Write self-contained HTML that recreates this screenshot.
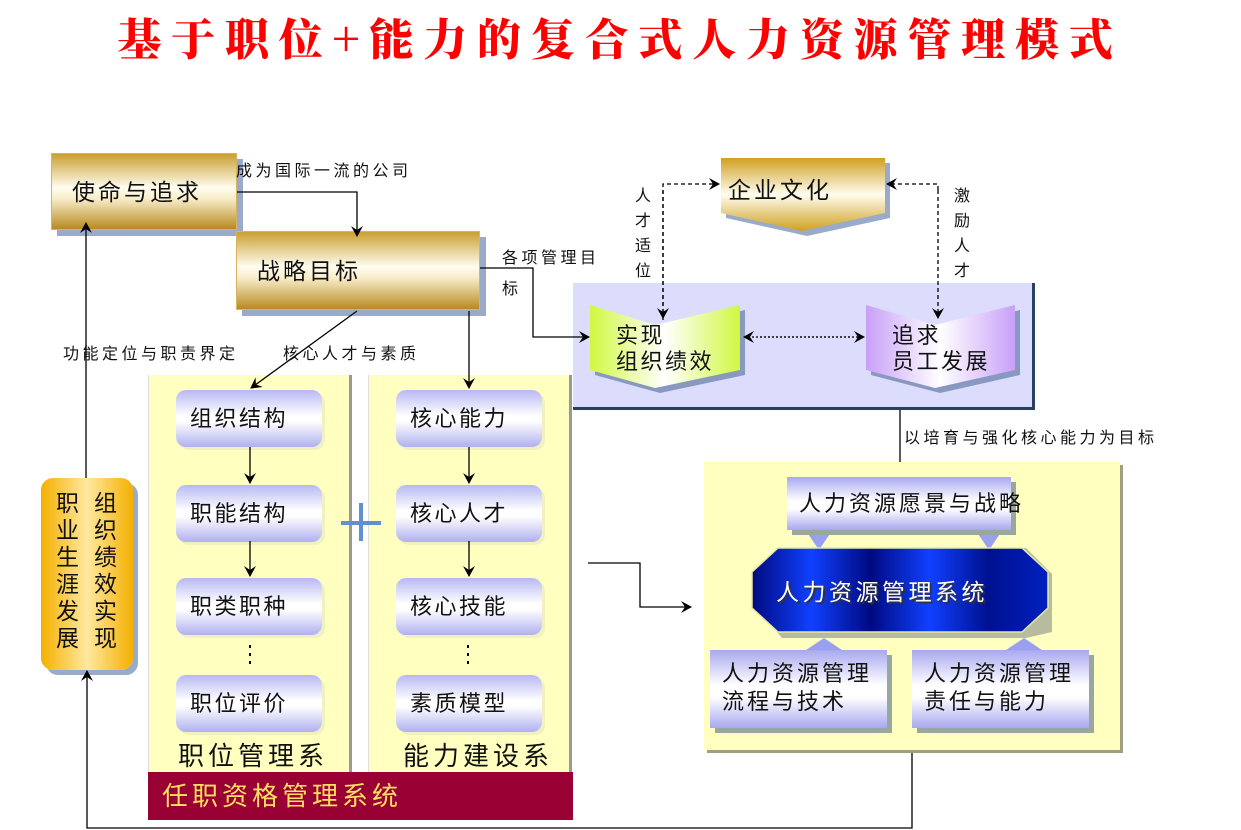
<!DOCTYPE html>
<html><head><meta charset="utf-8"><style>
body{margin:0;width:1241px;height:830px;background:#fff;position:relative;overflow:hidden;font-family:"Liberation Sans","Noto Sans CJK SC",sans-serif;color:#111}
.a{position:absolute}
.gold{background:linear-gradient(#c9a030,#fffdf0 45%,#f7ecc8 60%,#b88a20);border:1px solid #d7b460;box-shadow:6px 6px 0 #9aaacb;box-sizing:border-box;letter-spacing:3px}
.pill{position:absolute;width:146px;height:57px;border-radius:10px;background:linear-gradient(#b8b8f4,#fff 45%,#fff 55%,#b0b0f0);box-shadow:3px 3px 0 #f0f0c0;font-size:22px;line-height:57px;padding-left:14px;box-sizing:border-box;letter-spacing:2.5px}
.lav{background:linear-gradient(#a8a8f0,#fff 45%,#fff 60%,#a8a8f0);box-shadow:5px 5px 0 #98a8a0;box-sizing:border-box;font-size:22px;letter-spacing:3px}
.t{position:absolute;font-size:16px;white-space:nowrap;letter-spacing:3.5px}
</style></head><body>
<div class="a" style="left:100px;top:6px;width:1040px;text-align:center;font-family:'Noto Serif CJK SC',serif;font-weight:900;font-size:44px;letter-spacing:9.8px;color:#f00;line-height:60px">基于职位+能力的复合式人力资源管理模式</div>

<div class="a gold" style="left:51px;top:153px;width:186px;height:77px;font-size:23px;line-height:77px;padding-left:20px">使命与追求</div>
<div class="a gold" style="left:236px;top:231px;width:244px;height:79px;font-size:23px;line-height:79px;padding-left:20px">战略目标</div>
<div class="t" style="left:236px;top:157px">成为国际一流的公司</div>
<div class="t" style="left:502px;top:243px;line-height:31px">各项管理目<br>标</div>
<div class="t" style="left:63px;top:340px">功能定位与职责界定</div>
<div class="t" style="left:283px;top:340px">核心人才与素质</div>

<div class="a" style="left:148px;top:375px;width:200px;height:397px;background:#ffffc0;border-right:3px solid #999;border-left:1px solid #ddd"></div>
<div class="a" style="left:368px;top:375px;width:200px;height:397px;background:#ffffc0;border-right:3px solid #999;border-left:1px solid #ddd"></div>
<div class="pill" style="left:176px;top:390px">组织结构</div>
<div class="pill" style="left:176px;top:485px">职能结构</div>
<div class="pill" style="left:176px;top:578px">职类职种</div>
<div class="pill" style="left:176px;top:675px">职位评价</div>
<div class="pill" style="left:396px;top:390px">核心能力</div>
<div class="pill" style="left:396px;top:485px">核心人才</div>
<div class="pill" style="left:396px;top:578px">核心技能</div>
<div class="pill" style="left:396px;top:675px">素质模型</div>
<div class="a" style="left:178px;top:736px;font-size:26px;letter-spacing:4px">职位管理系</div>
<div class="a" style="left:403px;top:736px;font-size:26px;letter-spacing:4px">能力建设系</div>
<div class="a" style="left:148px;top:772px;width:425px;height:48px;background:#990033;color:#ffe060;font-size:26px;line-height:48px;padding-left:14px;box-sizing:border-box;letter-spacing:4px">任职资格管理系统</div>

<div class="a" style="left:41px;top:478px;width:92px;height:192px;border-radius:12px;background:linear-gradient(90deg,#f4b000,#ffe8a0 50%,#f4b000);box-shadow:5px 5px 0 #9aaacb;font-size:23px;line-height:27px">
<div class="a" style="left:15px;top:12px;width:24px">职业生涯发展</div><div class="a" style="left:53px;top:12px;width:24px">组织绩效实现</div></div>

<div class="a" style="left:573px;top:283px;width:462px;height:127px;background:#dcdcfc;border-right:3px solid #2a4060;border-bottom:3px solid #2a4060;box-sizing:border-box"></div>
<svg class="a" style="left:0;top:0" width="1241" height="830">
<defs>
<linearGradient id="g1" x1="0" x2="1"><stop offset="0" stop-color="#d0f840"/><stop offset=".5" stop-color="#fff"/><stop offset="1" stop-color="#d0f840"/></linearGradient>
<linearGradient id="g2" x1="0" x2="1"><stop offset="0" stop-color="#c8a0f8"/><stop offset=".5" stop-color="#fff"/><stop offset="1" stop-color="#c8a0f8"/></linearGradient>
<linearGradient id="g3" x1="0" y1="0" x2="0" y2="1"><stop offset="0" stop-color="#d0a020"/><stop offset=".5" stop-color="#fffdf0"/><stop offset="1" stop-color="#d0a020"/></linearGradient>
<linearGradient id="g4" x1="0" x2="1"><stop offset="0" stop-color="#000a80"/><stop offset=".2" stop-color="#1040ff"/><stop offset=".4" stop-color="#000a80"/><stop offset=".6" stop-color="#1040ff"/><stop offset=".8" stop-color="#001090"/><stop offset="1" stop-color="#0020c0"/></linearGradient>
<marker id="ar" markerWidth="12" markerHeight="12" refX="10" refY="6" orient="auto" markerUnits="userSpaceOnUse"><path d="M0,0 L11,6 L0,12 L4,6Z" fill="#000"/></marker>
</defs>
<polygon points="726,163 890,163 890,218 807,236 726,218" fill="#9aaacb"/>
<polygon points="721,158 885,158 885,213 802,231 721,213" fill="url(#g3)"/>
<polygon points="595,310 660,330 745,310 745,375 660,393 595,375" fill="#8898c0"/>
<polygon points="590,305 655,325 740,305 740,370 655,388 590,370" fill="url(#g1)"/>
<polygon points="871,310 940,330 1020,310 1020,375 940,393 871,375" fill="#8898c0"/>
<polygon points="866,305 935,325 1015,305 1015,370 935,388 866,370" fill="url(#g2)"/>
<g stroke="#000" stroke-width="1.3" fill="none">
<polyline points="237,192 357,192 357,236" marker-end="url(#ar)"/>
<polyline points="480,268 533,268 533,337 589,337" marker-end="url(#ar)"/>
<line x1="357" y1="311" x2="251" y2="388" marker-end="url(#ar)"/>
<line x1="469" y1="311" x2="469" y2="388" marker-end="url(#ar)"/>
<line x1="250" y1="447" x2="250" y2="483" marker-end="url(#ar)"/>
<line x1="250" y1="541" x2="250" y2="576" marker-end="url(#ar)"/>
<line x1="469" y1="447" x2="469" y2="483" marker-end="url(#ar)"/>
<line x1="469" y1="541" x2="469" y2="576" marker-end="url(#ar)"/>
<polyline points="588,563 640,563 640,607 691,607" marker-end="url(#ar)"/>
<line x1="86" y1="478" x2="86" y2="223" marker-end="url(#ar)"/>
<polyline points="912,750 912,828 87,828 87,671" marker-end="url(#ar)"/>
<line x1="900" y1="410" x2="900" y2="462"/>
<g stroke-dasharray="4,3"><polyline points="663,320 663,184 719,184" marker-end="url(#ar)"/><line x1="663" y1="190" x2="663" y2="318" marker-end="url(#ar)"/>
<polyline points="938,190 938,184 887,184" marker-end="url(#ar)"/><line x1="938" y1="190" x2="938" y2="318" marker-end="url(#ar)"/></g>
<g stroke-dasharray="2,2"><line x1="760" y1="337" x2="864" y2="337" marker-end="url(#ar)"/><line x1="850" y1="337" x2="744" y2="337" marker-end="url(#ar)"/></g>
</g>
<g fill="#000"><rect x="249" y="645" width="2" height="3"/><rect x="249" y="653" width="2" height="3"/><rect x="249" y="661" width="2" height="3"/><rect x="467" y="645" width="2" height="3"/><rect x="467" y="653" width="2" height="3"/><rect x="467" y="661" width="2" height="3"/></g>
<g stroke="#6090d0" stroke-width="4"><line x1="341" y1="523" x2="381" y2="523"/><line x1="361" y1="503" x2="361" y2="541"/></g>
</svg>
<div class="a" style="left:728px;top:171px;font-size:23px;letter-spacing:3px">企业文化</div>
<div class="a" style="left:616px;top:323px;font-size:22px;line-height:26px;letter-spacing:2.5px">实现<br>组织绩效</div>
<div class="a" style="left:892px;top:323px;font-size:22px;line-height:26px;letter-spacing:2.5px">追求<br>员工发展</div>
<div class="t" style="left:635px;top:184px;width:16px;line-height:25px;white-space:normal">人才适位</div>
<div class="t" style="left:954px;top:184px;width:16px;line-height:25px;white-space:normal">激励人才</div>
<div class="t" style="left:904px;top:424px">以培育与强化核心能力为目标</div>

<div class="a" style="left:704px;top:462px;width:416px;height:288px;background:#ffffc0;box-shadow:3px 3px 0 #a0a080"></div>
<svg class="a" style="left:704px;top:462px" width="420" height="290">
<polygon points="100,66 130,66 115,88" fill="#9aa0f0"/><polygon points="270,66 300,66 285,88" fill="#9aa0f0"/>
<polygon points="90,196 120,176 150,196" fill="#9aa0f0"/><polygon points="290,196 320,176 350,196" fill="#9aa0f0"/>
<polygon points="78,90 98,86 322,86 348,112 348,170 322,176 78,176 56,150" fill="#9aa090" opacity=".7"/>
<polygon points="74,86 318,86 344,110 344,146 318,170 74,170 48,146 48,110" fill="url(#g4)" stroke="#e8e8a0" stroke-width="1.5"/>
</svg>
<div class="a lav" style="left:787px;top:477px;width:224px;height:53px;line-height:53px;padding-left:12px;white-space:nowrap">人力资源愿景与战略</div>
<div class="a" style="left:776px;top:573px;font-size:23px;color:#fff;text-shadow:2px 2px 1px #333;letter-spacing:3.5px">人力资源管理系统</div>
<div class="a lav" style="left:710px;top:650px;width:177px;height:78px;line-height:28px;padding:10px 0 0 12px">人力资源管理<br>流程与技术</div>
<div class="a lav" style="left:912px;top:650px;width:177px;height:78px;line-height:28px;padding:10px 0 0 12px">人力资源管理<br>责任与能力</div>
</body></html>
